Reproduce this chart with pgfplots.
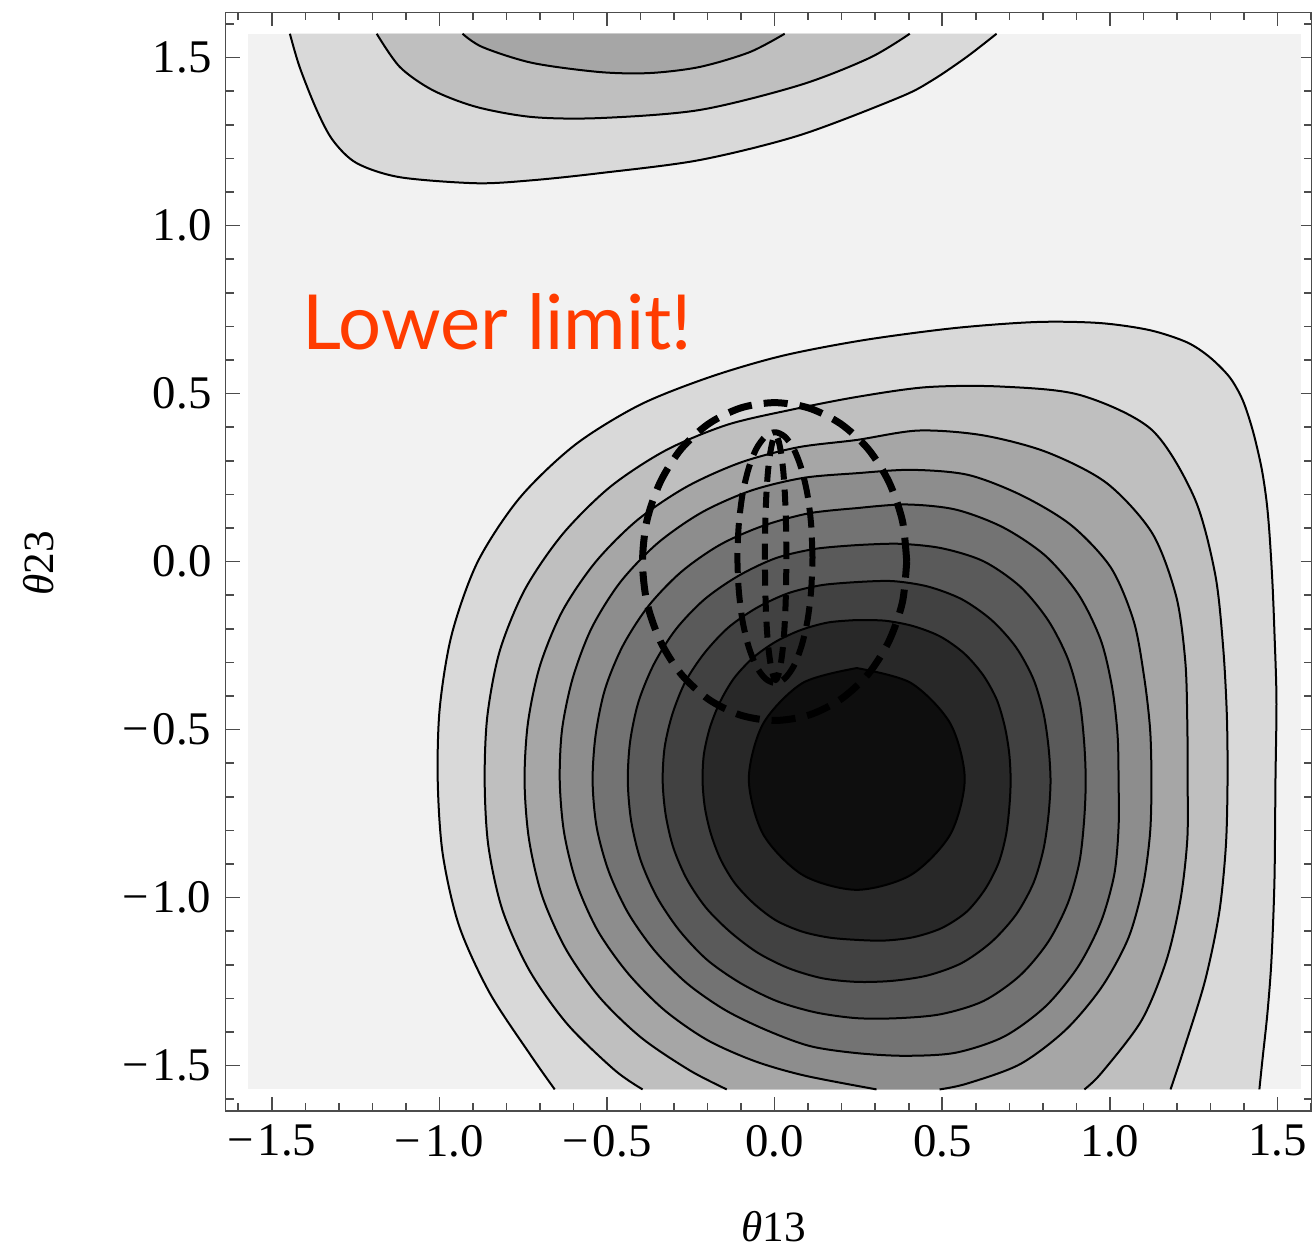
\documentclass[border=0pt]{standalone}
\usepackage{fontspec}
\setmainfont{Liberation Serif}
\newfontfamily\lato{Lato}
\usepackage{pgfplots}
\pgfplotsset{compat=1.18}
\definecolor{limitred}{RGB}{255,60,0}
\definecolor{bg}{RGB}{242,242,242}
\definecolor{b1}{RGB}{217,217,217}
\definecolor{b2}{RGB}{191,191,191}
\definecolor{b3}{RGB}{166,166,166}
\definecolor{b4}{RGB}{141,141,141}
\definecolor{b5}{RGB}{115,115,115}
\definecolor{b6}{RGB}{90,90,90}
\definecolor{b7}{RGB}{65,65,65}
\definecolor{b8}{RGB}{40,40,40}
\definecolor{b9}{RGB}{14,14,14}
\begin{document}
\begin{tikzpicture}
\begin{axis}[
  scale only axis, width=271.7pt, height=274.7pt,
  xmin=-1.638, xmax=1.603, ymin=-1.635, ymax=1.6345,
  axis line style={black!70, line width=0.4pt},
  tick align=inside,
  major tick length=3.5pt, minor tick length=2pt,
  tick style={black!70, line width=0.4pt},
  xtick={-1.5,-1,-0.5,0,0.5,1,1.5},
  xticklabels={−\kern1pt1.5,−\kern1pt1.0,−\kern1pt0.5,0.0,0.5,1.0,1.5},
  ytick={-1.5,-1,-0.5,0,0.5,1,1.5},
  yticklabels={−\kern1pt1.5,−\kern1pt1.0,−\kern1pt0.5,0.0,0.5,1.0,1.5},
  minor xtick={-1.6,-1.4,-1.3,-1.2,-1.1,-0.9,-0.8,-0.7,-0.6,-0.4,-0.3,-0.2,-0.1,0.1,0.2,0.3,0.4,0.6,0.7,0.8,0.9,1.1,1.2,1.3,1.4,1.6},
  minor ytick={-1.6,-1.4,-1.3,-1.2,-1.1,-0.9,-0.8,-0.7,-0.6,-0.4,-0.3,-0.2,-0.1,0.1,0.2,0.3,0.4,0.6,0.7,0.8,0.9,1.1,1.2,1.3,1.4,1.6},
  tick label style={font=\fontsize{11.7}{14}\selectfont, text=black},
  xlabel={{\itshape θ}13}, ylabel={{\itshape θ}23},
  label style={font=\fontsize{10.8}{13}\selectfont},
  xlabel style={at={(axis description cs:0.5045,-0.1192)}, anchor=base},
  ylabel style={at={(axis description cs:-0.158,0.4983)}, anchor=base},
  every axis plot/.append style={line join=round},
]
% background of the plot range
\addplot[fill=bg, draw=none] coordinates {(-1.5708,-1.5708) (1.5708,-1.5708) (1.5708,1.5708) (-1.5708,1.5708)};

% top blob
\addplot[fill=b1, draw=black, line width=0.5pt, smooth] coordinates {(-1.446,1.571) (-1.417,1.472) (-1.366,1.344) (-1.318,1.254) (-1.247,1.186) (-1.118,1.144) (-0.889,1.126) (-0.722,1.135) (-0.522,1.156) (-0.224,1.195) (0.075,1.269) (0.373,1.382) (0.471,1.433) (0.573,1.502) (0.662,1.571)};
\addplot[fill=b2, draw=black, line width=0.5pt, smooth] coordinates {(-1.187,1.571) (-1.118,1.472) (-1.020,1.403) (-0.889,1.353) (-0.722,1.323) (-0.522,1.320) (-0.224,1.344) (0.075,1.418) (0.283,1.499) (0.403,1.571)};
\addplot[fill=b3, draw=black, line width=0.5pt, smooth] coordinates {(-0.931,1.571) (-0.871,1.531) (-0.722,1.484) (-0.522,1.457) (-0.373,1.454) (-0.224,1.472) (-0.075,1.516) (0.030,1.571)};

% main blob
\addplot[fill=b1, draw=black, line width=0.5pt, smooth] coordinates {(-0.656,-1.571) (-0.728,-1.469) (-0.850,-1.284) (-0.941,-1.085) (-0.990,-0.871) (-1.005,-0.653) (-0.999,-0.436) (-0.963,-0.216) (-0.886,-0.001) (-0.761,0.189) (-0.596,0.347) (-0.403,0.466) (-0.194,0.549) (0.021,0.612) (0.265,0.659) (0.537,0.695) (0.781,0.713) (0.969,0.710) (1.118,0.689) (1.229,0.653) (1.297,0.609) (1.357,0.549) (1.396,0.481) (1.426,0.391) (1.452,0.281) (1.467,0.183) (1.476,0.085) (1.485,-0.064) (1.491,-0.213) (1.497,-0.412) (1.494,-0.650) (1.491,-0.948) (1.482,-1.186) (1.470,-1.344) (1.455,-1.484) (1.446,-1.571)};
\addplot[fill=b2, draw=black, line width=0.5pt, smooth] coordinates {(-0.394,-1.571) (-0.478,-1.513) (-0.619,-1.376) (-0.732,-1.216) (-0.812,-1.037) (-0.854,-0.846) (-0.865,-0.653) (-0.857,-0.460) (-0.820,-0.266) (-0.745,-0.083) (-0.633,0.081) (-0.491,0.222) (-0.325,0.331) (-0.142,0.407) (0.050,0.452) (0.245,0.490) (0.452,0.519) (0.673,0.521) (0.910,0.496) (1.124,0.393) (1.252,0.190) (1.314,-0.037) (1.338,-0.256) (1.349,-0.459) (1.351,-0.653) (1.346,-0.847) (1.326,-1.046) (1.283,-1.251) (1.216,-1.466) (1.181,-1.571)};
\addplot[fill=b3, draw=black, line width=0.5pt, smooth] coordinates {(-0.143,-1.571) (-0.254,-1.514) (-0.398,-1.417) (-0.523,-1.296) (-0.623,-1.153) (-0.694,-0.994) (-0.733,-0.825) (-0.746,-0.653) (-0.736,-0.481) (-0.700,-0.310) (-0.633,-0.147) (-0.534,-0.001) (-0.409,0.124) (-0.262,0.223) (-0.101,0.295) (0.069,0.340) (0.245,0.362) (0.429,0.390) (0.620,0.376) (0.811,0.326) (0.990,0.234) (1.126,0.085) (1.198,-0.104) (1.225,-0.297) (1.231,-0.480) (1.232,-0.653) (1.231,-0.827) (1.211,-1.004) (1.169,-1.186) (1.095,-1.365) (0.975,-1.522) (0.924,-1.571)};
\addplot[fill=b4, draw=black, line width=0.5pt, smooth] coordinates {(0.304,-1.571) (0.090,-1.530) (-0.059,-1.487) (-0.201,-1.424) (-0.329,-1.335) (-0.438,-1.225) (-0.528,-1.098) (-0.591,-0.957) (-0.628,-0.807) (-0.641,-0.653) (-0.634,-0.499) (-0.602,-0.346) (-0.546,-0.198) (-0.461,-0.062) (-0.350,0.054) (-0.218,0.146) (-0.071,0.211) (0.085,0.249) (0.245,0.263) (0.408,0.273) (0.577,0.258) (0.737,0.197) (0.885,0.108) (1.003,-0.018) (1.071,-0.177) (1.102,-0.342) (1.120,-0.499) (1.124,-0.653) (1.120,-0.807) (1.099,-0.964) (1.055,-1.121) (0.976,-1.266) (0.868,-1.394) (0.732,-1.496) (0.573,-1.554) (0.492,-1.571)};
\addplot[fill=b5, draw=black, line width=0.5pt, smooth] coordinates {(0.245,0.159) (0.390,0.170) (0.539,0.155) (0.681,0.102) (0.808,0.017) (0.907,-0.099) (0.973,-0.234) (1.007,-0.376) (1.023,-0.516) (1.026,-0.653) (1.026,-0.791) (1.013,-0.932) (0.973,-1.073) (0.905,-1.206) (0.808,-1.324) (0.684,-1.414) (0.539,-1.462) (0.389,-1.471) (0.245,-1.463) (0.105,-1.442) (-0.026,-1.394) (-0.149,-1.334) (-0.262,-1.255) (-0.358,-1.158) (-0.437,-1.046) (-0.495,-0.922) (-0.531,-0.790) (-0.543,-0.653) (-0.534,-0.516) (-0.506,-0.380) (-0.453,-0.251) (-0.377,-0.133) (-0.279,-0.031) (-0.163,0.050) (-0.033,0.107) (0.104,0.144) (0.245,0.159)};
\addplot[fill=b6, draw=black, line width=0.5pt, smooth] coordinates {(0.245,0.049) (0.369,0.053) (0.497,0.040) (0.623,0.001) (0.732,-0.074) (0.816,-0.175) (0.875,-0.290) (0.909,-0.412) (0.923,-0.534) (0.928,-0.653) (0.923,-0.773) (0.909,-0.895) (0.875,-1.016) (0.816,-1.132) (0.732,-1.232) (0.623,-1.308) (0.497,-1.347) (0.369,-1.359) (0.245,-1.359) (0.123,-1.342) (0.006,-1.308) (-0.103,-1.254) (-0.202,-1.185) (-0.285,-1.097) (-0.352,-0.997) (-0.400,-0.888) (-0.428,-0.772) (-0.438,-0.653) (-0.431,-0.535) (-0.406,-0.417) (-0.360,-0.305) (-0.295,-0.202) (-0.210,-0.113) (-0.109,-0.043) (0.003,0.010) (0.122,0.038) (0.245,0.049)};
\addplot[fill=b7, draw=black, line width=0.5pt, smooth] coordinates {(0.245,-0.061) (0.350,-0.058) (0.456,-0.074) (0.558,-0.112) (0.647,-0.174) (0.720,-0.255) (0.772,-0.350) (0.802,-0.451) (0.817,-0.552) (0.823,-0.653) (0.817,-0.754) (0.802,-0.856) (0.772,-0.957) (0.720,-1.051) (0.647,-1.132) (0.558,-1.195) (0.456,-1.232) (0.350,-1.248) (0.245,-1.251) (0.141,-1.240) (0.041,-1.210) (-0.051,-1.164) (-0.133,-1.102) (-0.205,-1.030) (-0.262,-0.945) (-0.302,-0.852) (-0.325,-0.754) (-0.334,-0.653) (-0.328,-0.552) (-0.305,-0.454) (-0.267,-0.359) (-0.210,-0.273) (-0.139,-0.197) (-0.054,-0.138) (0.041,-0.094) (0.141,-0.070) (0.245,-0.061)};
\addplot[fill=b8, draw=black, line width=0.5pt, smooth] coordinates {(0.245,-0.174) (0.329,-0.176) (0.413,-0.192) (0.494,-0.223) (0.565,-0.273) (0.622,-0.338) (0.663,-0.412) (0.687,-0.493) (0.700,-0.573) (0.704,-0.653) (0.700,-0.733) (0.690,-0.815) (0.668,-0.897) (0.628,-0.975) (0.572,-1.043) (0.498,-1.091) (0.414,-1.118) (0.328,-1.128) (0.245,-1.126) (0.162,-1.119) (0.081,-1.101) (0.004,-1.068) (-0.062,-1.018) (-0.119,-0.957) (-0.161,-0.887) (-0.190,-0.811) (-0.208,-0.733) (-0.215,-0.653) (-0.211,-0.573) (-0.193,-0.494) (-0.163,-0.418) (-0.121,-0.347) (-0.064,-0.286) (0.004,-0.238) (0.080,-0.203) (0.161,-0.181) (0.245,-0.174)};
\addplot[fill=b9, draw=black, line width=0.5pt, smooth] coordinates {(0.245,-0.317) (0.406,-0.361) (0.524,-0.482) (0.567,-0.647) (0.524,-0.812) (0.406,-0.933) (0.245,-0.977) (0.084,-0.933) (-0.034,-0.812) (-0.077,-0.647) (-0.034,-0.482) (0.084,-0.361) (0.245,-0.317)};

% dashed regions
\addplot[draw=black, line width=1.75pt, dash pattern=on 6pt off 3pt, smooth] coordinates {(0.394,0) (0.381,0.122) (0.341,0.237) (0.279,0.335) (0.197,0.410) (0.102,0.457) (0,0.473) (-0.102,0.457) (-0.197,0.410) (-0.279,0.335) (-0.341,0.237) (-0.381,0.122) (-0.394,0) (-0.381,-0.122) (-0.341,-0.237) (-0.279,-0.335) (-0.197,-0.410) (-0.102,-0.457) (0,-0.473) (0.102,-0.457) (0.197,-0.410) (0.279,-0.335) (0.341,-0.237) (0.381,-0.122) (0.394,0)};
\addplot[draw=black, line width=1.5pt, dash pattern=on 5pt off 2.5pt, smooth] coordinates {(0.113,0.012) (0.109,0.109) (0.098,0.199) (0.080,0.276) (0.057,0.335) (0.030,0.372) (0.001,0.385) (-0.028,0.372) (-0.055,0.335) (-0.078,0.276) (-0.096,0.199) (-0.107,0.109) (-0.111,0.012) (-0.107,-0.085) (-0.096,-0.175) (-0.078,-0.252) (-0.055,-0.311) (-0.028,-0.348) (0.001,-0.361) (0.030,-0.348) (0.057,-0.311) (0.080,-0.252) (0.098,-0.175) (0.109,-0.085) (0.113,0.012)};
\addplot[draw=black, line width=1.5pt, dash pattern=on 4pt off 2.5pt, smooth] coordinates {(0.035,0.012) (0.034,0.105) (0.031,0.192) (0.026,0.267) (0.019,0.324) (0.011,0.362) (0.003,0.377) (-0.005,0.362) (-0.013,0.324) (-0.020,0.267) (-0.025,0.192) (-0.028,0.105) (-0.029,0.012) (-0.028,-0.081) (-0.025,-0.168) (-0.020,-0.243) (-0.013,-0.300) (-0.005,-0.338) (0.003,-0.353) (0.011,-0.338) (0.019,-0.300) (0.026,-0.243) (0.031,-0.168) (0.034,-0.081) (0.035,0.012)};

\node[anchor=base west, inner sep=0pt, text=limitred, font=\lato\fontsize{19}{19}\selectfont] at (axis cs:-1.411,0.632) {Lower limit!};
\end{axis}
\pgfresetboundingbox
\path ([shift={(-56.4pt,-34.25pt)}]current axis.south west) rectangle ([shift={(0pt,3.1pt)}]current axis.north east);
\end{tikzpicture}
\end{document}
